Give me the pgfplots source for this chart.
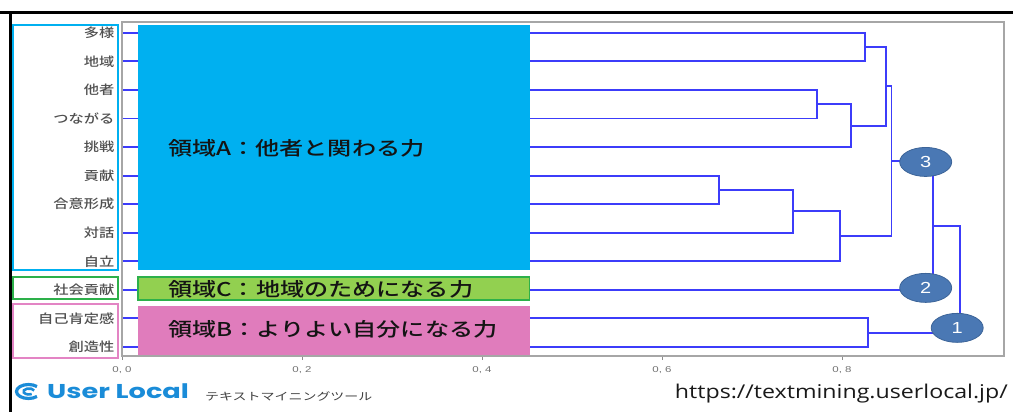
\documentclass[border=0pt]{standalone}
\usepackage{fontspec}
\usepackage{pgfplots}
\pgfplotsset{compat=1.18}
\usetikzlibrary{shapes.geometric}
\setmainfont{Liberation Sans}
\newfontfamily\jp{Noto Sans CJK JP}
\newfontfamily\jpm{Noto Sans CJK JP Medium}
\newfontfamily\logofont{Poppins}
\newfontfamily\urlfont{Open Sans}
\newcommand{\sx}[2][1.27]{\scalebox{#1}[1]{#2}}
\definecolor{dblue}{RGB}{60,60,250}
\definecolor{cyanbox}{HTML}{00B0F0}
\definecolor{greenfill}{HTML}{92D050}
\definecolor{greenedge}{HTML}{2DB04A}
\definecolor{pinkfill}{HTML}{E07CBC}
\definecolor{pinkedge}{HTML}{E384C4}
\definecolor{ovalfill}{HTML}{4A78B4}
\definecolor{ovaledge}{HTML}{3C6498}
\definecolor{logoblue}{HTML}{1A8CD8}
\definecolor{ticktext}{HTML}{505050}
\pgfplotsset{dend/.style={draw=dblue, line width=1.9pt, mark=none, sharp plot, forget plot}}
\begin{document}
\begin{tikzpicture}
\useasboundingbox (0pt,0pt) rectangle (1013pt,412pt);
\begin{axis}[
  at={(122pt,56pt)}, anchor=south west,
  scale only axis, width=882pt, height=334pt,
  xmin=0, xmax=0.98, ymin=-0.315, ymax=11.38,
  axis on top,
  axis line style={draw=black!35, line width=1.6pt},
  xtick={0,0.2,0.4,0.6,0.8},
  xticklabels={{\sx[1.35]{0, 0}},{\sx[1.35]{0, 2}},{\sx[1.35]{0, 4}},{\sx[1.35]{0, 6}},{\sx[1.35]{0, 8}}},
  xtick pos=bottom, ytick pos=left,
  tick align=outside, major tick length=4pt,
  xtick style={draw=black!45, line width=1pt},
  ytick style={draw=none},
  x tick label style={font=\fontsize{8.5}{9}\selectfont, text=black!55, yshift=-3pt},
  ytick={0,1,2,3,4,5,6,7,8,9,10,11},
  yticklabels={{\sx[1.22]{創造性}},{\sx[1.22]{自己肯定感}},{\sx[1.22]{社会貢献}},{\sx[1.22]{自立}},{\sx[1.22]{対話}},{\sx[1.22]{合意形成}},{\sx[1.22]{貢献}},{\sx[1.22]{挑戦}},{\sx[1.22]{つながる}},{\sx[1.22]{他者}},{\sx[1.22]{地域}},{\sx[1.22]{多様}}},
  y tick label style={font=\jpm\fontsize{12.5}{12.5}\selectfont, text=ticktext},
]
\addplot[dend] coordinates {(0,11) (0.826,11) (0.826,10) (0,10)};
\addplot[dend] coordinates {(0,9) (0.772,9) (0.772,8) (0,8)};
\addplot[dend] coordinates {(0.772,8.5) (0.81,8.5) (0.81,7) (0,7)};
\addplot[dend] coordinates {(0.826,10.5) (0.849,10.5) (0.849,7.75) (0.81,7.75)};
\addplot[dend] coordinates {(0,6) (0.663,6) (0.663,5) (0,5)};
\addplot[dend] coordinates {(0.663,5.5) (0.746,5.5) (0.746,4) (0,4)};
\addplot[dend] coordinates {(0.746,4.75) (0.798,4.75) (0.798,3) (0,3)};
\addplot[dend] coordinates {(0.849,9.125) (0.855,9.125) (0.855,3.875) (0.798,3.875)};
\addplot[dend] coordinates {(0.855,6.5) (0.901,6.5) (0.901,2) (0,2)};
\addplot[dend] coordinates {(0,1) (0.829,1) (0.829,0) (0,0)};
\addplot[dend] coordinates {(0.829,0.5) (0.931,0.5) (0.931,4.25) (0.901,4.25)};
% region boxes
\fill[cyanbox] (axis cs:0.018,2.70) rectangle (axis cs:0.453,11.28);
\filldraw[fill=greenfill, draw=greenedge, line width=1.5pt] (axis cs:0.018,1.65) rectangle (axis cs:0.453,2.45);
\fill[pinkfill] (axis cs:0.018,-0.315) rectangle (axis cs:0.453,1.44);
\node[anchor=west, inner sep=0pt, text=black!92] at (axis cs:0.051,6.97) {\sx{\jpm\fontsize{19}{19}\selectfont 領域A：他者と関わる力}};
\node[anchor=west, inner sep=0pt, text=black!92] at (axis cs:0.051,2.03) {\sx{\jpm\fontsize{19}{19}\selectfont 領域C：地域のためになる力}};
\node[anchor=west, inner sep=0pt, text=black!92] at (axis cs:0.051,0.63) {\sx{\jpm\fontsize{19}{19}\selectfont 領域B：よりよい自分になる力}};
% cluster ovals
\node[ellipse, fill=ovalfill, draw=ovaledge, line width=0.8pt, minimum width=52pt, minimum height=29pt, inner sep=0pt, text=white, font=\fontsize{16}{16}\selectfont] at (axis cs:0.893,6.48) {\sx[1.25]{3}};
\node[ellipse, fill=ovalfill, draw=ovaledge, line width=0.8pt, minimum width=52pt, minimum height=29pt, inner sep=0pt, text=white, font=\fontsize{16}{16}\selectfont] at (axis cs:0.893,2.07) {\sx[1.25]{2}};
\node[ellipse, fill=ovalfill, draw=ovaledge, line width=0.8pt, minimum width=52pt, minimum height=29pt, inner sep=0pt, text=white, font=\fontsize{16}{16}\selectfont] at (axis cs:0.928,0.67) {\sx[1.25]{1}};
\end{axis}
% outline boxes round the labels
\draw[cyanbox, line width=2.5pt] (13pt,142pt) rectangle (118pt,387pt);
\draw[greenedge, line width=2.5pt] (13pt,113pt) rectangle (118pt,135pt);
\draw[pinkedge, line width=2.5pt] (13pt,54pt) rectangle (118pt,108pt);
% outer frame lines
\draw[black, line width=3pt] (0pt,399pt) -- (1013pt,399pt);
\draw[black, line width=3pt] (10pt,400.5pt) -- (10pt,0pt);
% logo
\draw[logoblue, line width=3.2pt] ([shift={(45:12pt and 7pt)}]28.5pt,20.5pt) arc[start angle=45, end angle=315, x radius=12pt, y radius=7pt];
\draw[logoblue, line width=2.6pt] ([shift={(20:5.5pt and 3pt)}]29pt,20.5pt) arc[start angle=20, end angle=300, x radius=5.5pt, y radius=3pt];
\node[anchor=west, inner sep=0pt, text=logoblue] at (47pt,20.5pt) {\scalebox{1.36}[1]{\logofont\bfseries\fontsize{20}{20}\selectfont User Local}};
\node[anchor=west, inner sep=0pt, text=black!75] at (205pt,16pt) {\sx[1.33]{\jp\fontsize{10.5}{10.5}\selectfont テキストマイニングツール}};
\node[anchor=east, inner sep=0pt, text=black!90] at (1008pt,18pt) {\sx[1.22]{\urlfont\fontsize{19}{19}\selectfont https://textmining.userlocal.jp/}};
\end{tikzpicture}
\end{document}
